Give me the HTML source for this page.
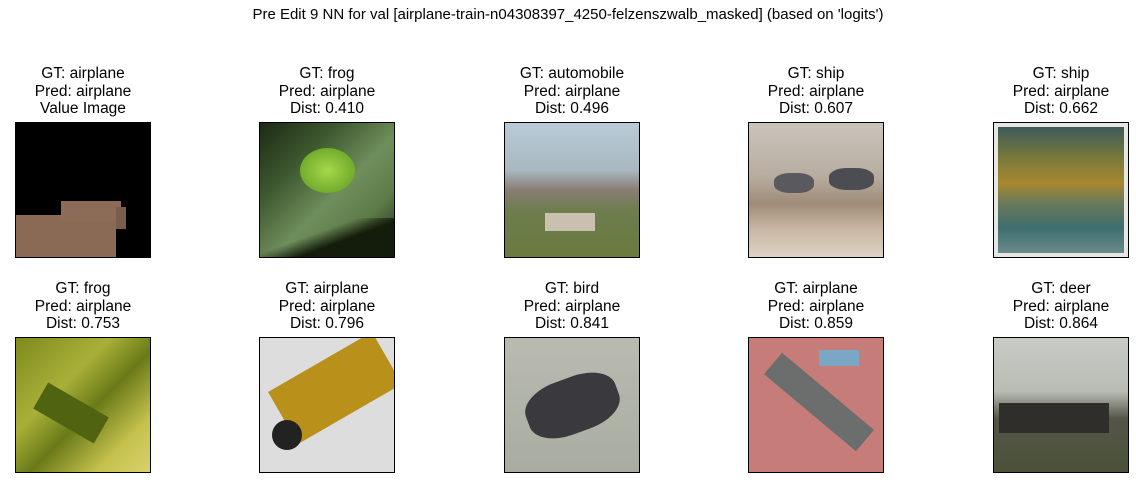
<!DOCTYPE html>
<html><head><meta charset="utf-8"><style>
body{margin:0;width:1136px;height:486px;background:#fff;position:relative;overflow:hidden;font-family:"Liberation Sans","DejaVu Sans",sans-serif;color:#000}
.t{position:absolute;top:6px;left:0;width:1136px;text-align:center;font-size:15px}
.lb{position:absolute;width:200px;text-align:center;font-size:15.5px;line-height:17.5px}
.im{position:absolute;width:134px;height:134px;border:1px solid #000;overflow:hidden}
.im div{position:absolute}
</style></head><body>
<div class="t">Pre Edit 9 NN for val [airplane-train-n04308397_4250-felzenszwalb_masked] (based on 'logits')</div>

<div class="lb" style="left:-17px;top:65px">GT: airplane<br>Pred: airplane<br>Value Image</div>
<div class="lb" style="left:227px;top:65px">GT: frog<br>Pred: airplane<br>Dist: 0.410</div>
<div class="lb" style="left:472px;top:65px">GT: automobile<br>Pred: airplane<br>Dist: 0.496</div>
<div class="lb" style="left:716px;top:65px">GT: ship<br>Pred: airplane<br>Dist: 0.607</div>
<div class="lb" style="left:961px;top:65px">GT: ship<br>Pred: airplane<br>Dist: 0.662</div>

<div class="lb" style="left:-17px;top:280px">GT: frog<br>Pred: airplane<br>Dist: 0.753</div>
<div class="lb" style="left:227px;top:280px">GT: airplane<br>Pred: airplane<br>Dist: 0.796</div>
<div class="lb" style="left:472px;top:280px">GT: bird<br>Pred: airplane<br>Dist: 0.841</div>
<div class="lb" style="left:716px;top:280px">GT: airplane<br>Pred: airplane<br>Dist: 0.859</div>
<div class="lb" style="left:961px;top:280px">GT: deer<br>Pred: airplane<br>Dist: 0.864</div>

<!-- row 1 -->
<div class="im" style="left:15px;top:122px;background:#000">
 <div style="left:0;top:92px;width:100px;height:42px;background:#8a6a55"></div>
 <div style="left:45px;top:78px;width:60px;height:20px;background:#8c6b58"></div>
 <div style="left:100px;top:84px;width:10px;height:22px;background:#7a5d4c"></div>
</div>
<div class="im" style="left:259px;top:122px;background:linear-gradient(135deg,#1d2a14 0%,#3f5a30 30%,#6e8e5c 55%,#5e7c4a 75%,#1a2410 100%)">
 <div style="left:40px;top:25px;width:55px;height:45px;border-radius:50%;background:radial-gradient(#a6d84a,#5c9a20)"></div>
 <div style="left:0;top:95px;width:134px;height:40px;background:linear-gradient(160deg,transparent 40%,#141c0c 60%)"></div>
</div>
<div class="im" style="left:504px;top:122px;background:linear-gradient(#b8cbd8 0%,#a9b8bf 35%,#8a7d74 50%,#6d7d4e 65%,#6b7a3e 100%)">
 <div style="left:40px;top:90px;width:50px;height:18px;background:#c9c0b0"></div>
</div>
<div class="im" style="left:748px;top:122px;background:linear-gradient(#c9c4bb 0%,#b8aca0 40%,#9f8c78 60%,#c9b8a4 80%,#ddd2c4 100%)">
 <div style="left:80px;top:45px;width:45px;height:22px;border-radius:40%;background:#4c4d52"></div>
 <div style="left:25px;top:50px;width:40px;height:20px;border-radius:40%;background:#5a5a5e"></div>
</div>
<div class="im" style="left:993px;top:122px;background:#e6e6e2">
 <div style="left:4px;top:4px;width:126px;height:126px;background:linear-gradient(#3d5a5a 0%,#7a7a3a 25%,#a8872f 45%,#6a7a5a 60%,#3f6e6e 80%,#6a8a8a 100%)"></div>
</div>

<!-- row 2 -->
<div class="im" style="left:15px;top:337px;background:linear-gradient(135deg,#7e8a1e 0%,#a9b038 35%,#6a7a18 55%,#c6c24e 80%,#d8d06a 100%)">
 <div style="left:20px;top:60px;width:70px;height:30px;transform:rotate(30deg);background:#4f6310"></div>
</div>
<div class="im" style="left:259px;top:337px;background:#ddd">
 <div style="left:15px;top:20px;width:120px;height:60px;transform:rotate(-30deg);background:#b8901a"></div>
 <div style="left:12px;top:82px;width:30px;height:30px;border-radius:50%;background:#222"></div>
</div>
<div class="im" style="left:504px;top:337px;background:linear-gradient(#b9bbb0,#a9aca0)">
 <div style="left:20px;top:40px;width:95px;height:55px;border-radius:40%;transform:rotate(-20deg);background:#3a3a3e"></div>
</div>
<div class="im" style="left:748px;top:337px;background:#c67c78">
 <div style="left:10px;top:50px;width:120px;height:28px;transform:rotate(40deg);background:#6c6e6e"></div>
 <div style="left:70px;top:12px;width:40px;height:16px;background:#7ba6c6"></div>
</div>
<div class="im" style="left:993px;top:337px;background:linear-gradient(#c9cbc6 0%,#b9bcb4 40%,#555548 60%,#4a5238 100%)">
 <div style="left:5px;top:65px;width:110px;height:30px;background:#2f2e2a"></div>
</div>
</body></html>
